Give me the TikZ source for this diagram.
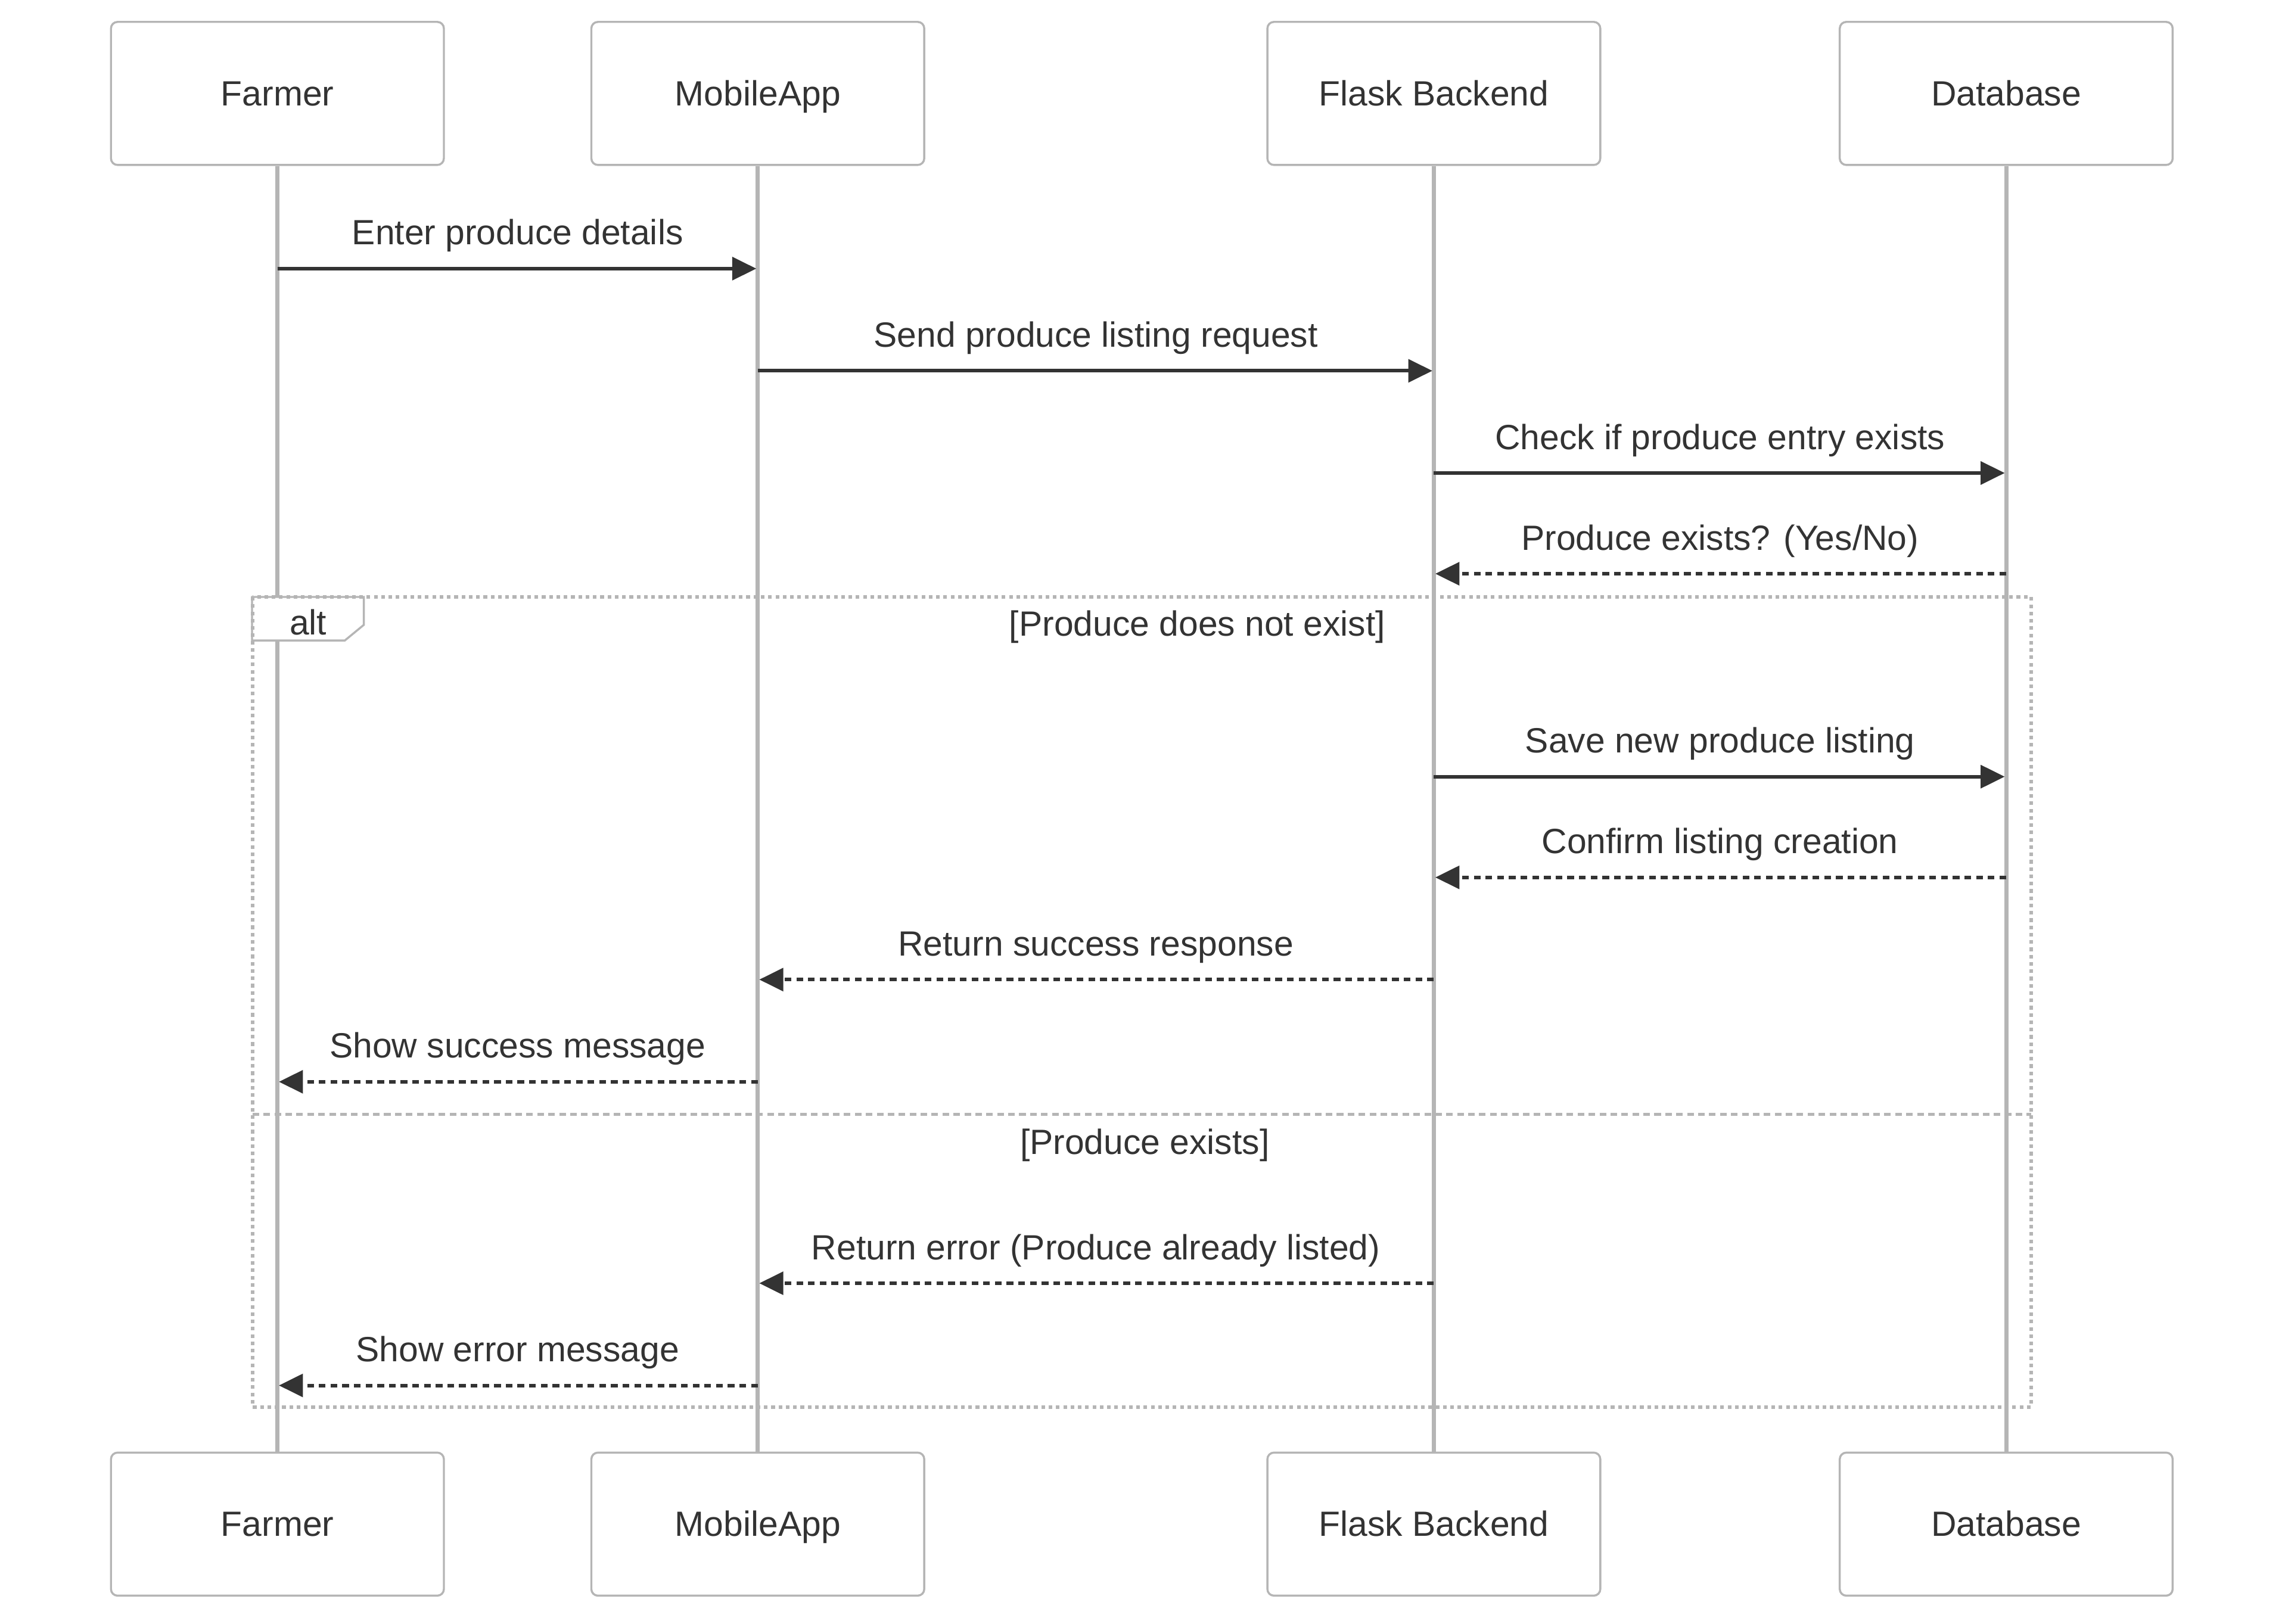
\documentclass[tikz,border=0pt]{standalone}
\usepackage{fontspec}
\setmainfont{Liberation Sans}
\usetikzlibrary{arrows.meta}
\definecolor{ink}{HTML}{333333}
\definecolor{edge}{HTML}{B5B5B5}
\begin{document}
\begin{tikzpicture}[x=1pt, y=-1pt,
  actorbox/.style={draw=edge, line width=1.4pt, fill=white, rounded corners=4.5pt, minimum width=228pt, minimum height=98pt, inner sep=0pt, text=ink, text height=16.6pt, text depth=0pt, font=\fontsize{24}{29}\selectfont},
  lifeline/.style={draw=edge, line width=2.8pt},
  call/.style={draw=ink, line width=2.4pt, -{Triangle[length=16.5pt,width=15.6pt]}, shorten >=1pt},
  reply/.style={call, dash pattern=on 4.6pt off 3.4pt},
  msglabel/.style={anchor=base, yshift=16.3pt, inner sep=0pt, text=ink, font=\fontsize{24}{29}\selectfont},
  framelabel/.style={anchor=base, inner sep=0pt, text=ink, font=\fontsize{24}{29}\selectfont},
  altframe/.style={draw=edge, line width=2.4pt, dash pattern=on 2.5pt off 2.5pt},
  divider/.style={draw=edge, line width=2.4pt, dash pattern=on 4.5pt off 3pt},
  alttab/.style={draw=edge, line width=1.4pt, fill=white}]
\useasboundingbox (0,0) rectangle (1567,1112.4);
\node[actorbox] (farmerT) at (190,64) {Farmer};
\node[actorbox] (appT) at (519,64) {MobileApp};
\node[actorbox] (flaskT) at (982,64) {Flask Backend};
\node[actorbox] (dbT) at (1374,64) {Database};
\node[actorbox] (farmerB) at (190,1044) {Farmer};
\node[actorbox] (appB) at (519,1044) {MobileApp};
\node[actorbox] (flaskB) at (982,1044) {Flask Backend};
\node[actorbox] (dbB) at (1374,1044) {Database};
\draw[lifeline] (farmerT) -- (farmerB);
\draw[lifeline] (appT) -- (appB);
\draw[lifeline] (flaskT) -- (flaskB);
\draw[lifeline] (dbT) -- (dbB);
\draw[alttab] (172.6,408.9) -- (249.2,408.9) -- (249.2,428) -- (236.2,438.7) -- (172.6,438.7) -- cycle;
\coordinate (altNW) at (173,408.9);
\coordinate (altSE) at (1391,963.7);
\coordinate (splitW) at (173,763.3);
\coordinate (splitE) at (1391,763.3);
\draw[altframe] (altNW) rectangle (altSE);
\draw[divider] (splitW) -- (splitE);
\node[framelabel] (alttag) at (211,434.6) {alt};
\node[framelabel] (case1) at (820,435.5) {[Produce does not exist]};
\node[framelabel] (case2) at (784,790.5) {[Produce exists]};
\coordinate (farmer1) at (190,184);
\coordinate (app1) at (519,184);
\coordinate (app2) at (519,254);
\coordinate (flask2) at (982,254);
\coordinate (flask3) at (982,324);
\coordinate (db3) at (1374,324);
\coordinate (db4) at (1374,393);
\coordinate (flask4) at (982,393);
\coordinate (flask5) at (982,532);
\coordinate (db5) at (1374,532);
\coordinate (db6) at (1374,601);
\coordinate (flask6) at (982,601);
\coordinate (flask7) at (982,671);
\coordinate (app7) at (519,671);
\coordinate (app8) at (519,741);
\coordinate (farmer8) at (190,741);
\coordinate (flask9) at (982,879);
\coordinate (app9) at (519,879);
\coordinate (app10) at (519,949);
\coordinate (farmer10) at (190,949);
\draw[call] (farmer1) -- node[midway, msglabel] {Enter produce details} (app1);
\draw[call] (app2) -- node[midway, msglabel] {Send produce listing request} (flask2);
\draw[call] (flask3) -- node[midway, msglabel] {Check if produce entry exists} (db3);
\draw[reply] (db4) -- node[midway, msglabel] {Produce exists? (Yes/No)} (flask4);
\draw[call] (flask5) -- node[midway, msglabel] {Save new produce listing} (db5);
\draw[reply] (db6) -- node[midway, msglabel] {Confirm listing creation} (flask6);
\draw[reply] (flask7) -- node[midway, msglabel] {Return success response} (app7);
\draw[reply] (app8) -- node[midway, msglabel] {Show success message} (farmer8);
\draw[reply] (flask9) -- node[midway, msglabel] {Return error (Produce already listed)} (app9);
\draw[reply] (app10) -- node[midway, msglabel] {Show error message} (farmer10);
\end{tikzpicture}
\end{document}
